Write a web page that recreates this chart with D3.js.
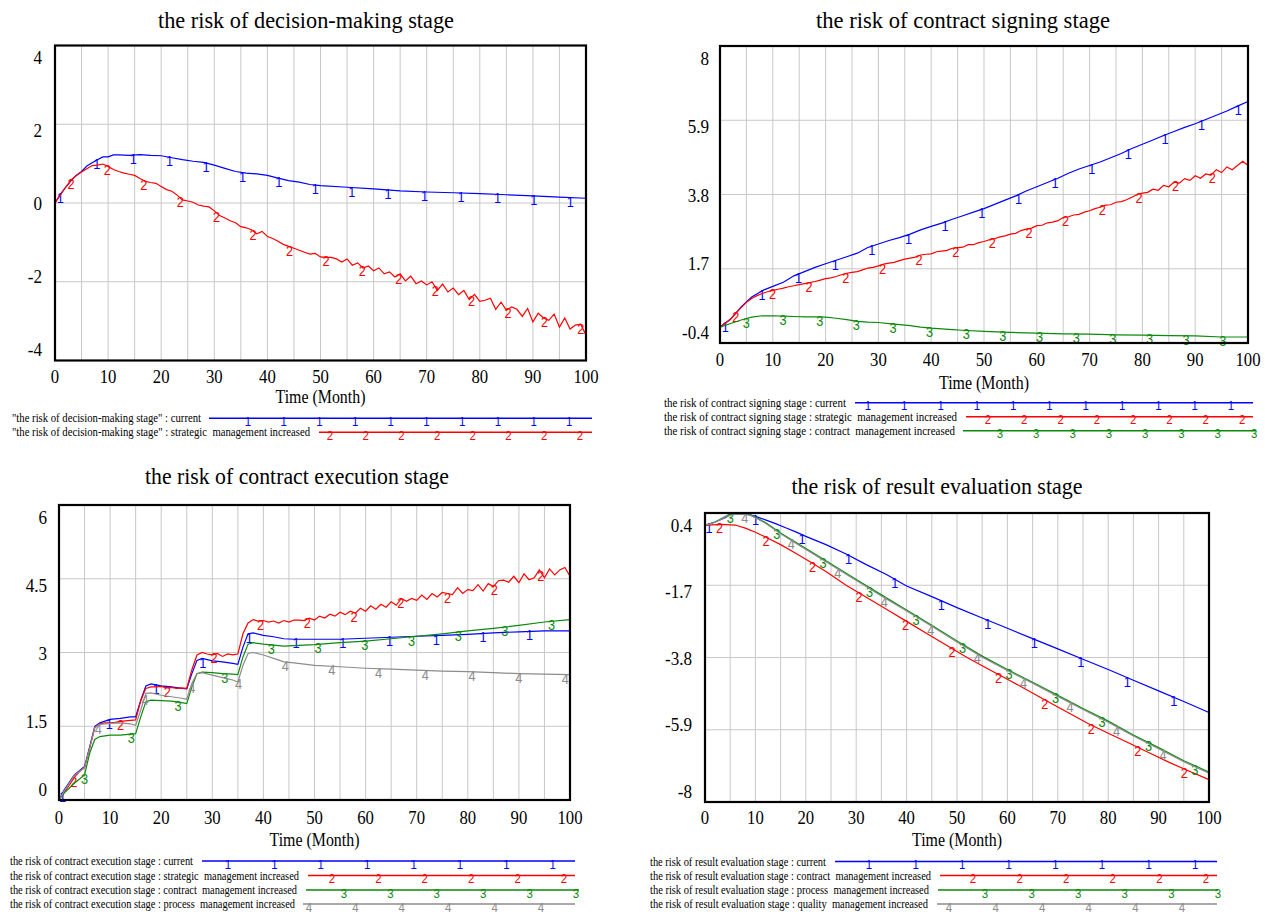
<!DOCTYPE html>
<html>
<head>
<meta charset="utf-8">
<script src="https://cdn.jsdelivr.net/npm/d3@7"></script>
<style>
  body { margin: 0; background: #fff; }
  svg { display: block; }
  .pre { white-space: pre; }
</style>
</head>
<body>
<svg id="chart" width="1265" height="914"></svg>
<script>
'use strict'

// ---------- data ----------
const monthly = d3.range(0, 101)        // simulation grid, 1 month step
const everyTwo = d3.range(0, 101, 2)

// the risk of decision-making stage
const dmTicks = [-4, -2, 0, 2, 4]
const dmCurrentT = [0,1,2,3,4,5,6,7,8,9,10,11,12,14,16,18,20,22,24,26,28,30,32,34,36,38,40,42,44,46,48,50,55,60,65,70,75,80,85,90,95,100]
const dmCurrent = [0,0.22,0.4,0.56,0.7,0.8,0.94,1.02,1.1,1.17, 1.17,1.22,1.22,1.21,1.23,1.21,1.2,1.15,1.1,1.06,
  1.03,0.96,0.88,0.8,0.76,0.74,0.7,0.63,0.57,0.53, 0.47,0.44,0.4,0.36,0.31,0.28,0.26,0.24,0.21,0.18, 0.15,0.12]
const dmStrategic = [
  0,0.2,0.4,0.58,0.7,0.79,0.87,0.95,0.96,0.99,
  0.93,0.85,0.8,0.76,0.73,0.7,0.62,0.55,0.52,0.5,
  0.42,0.34,0.3,0.2,0.08,0.05,0.02,-0.05,-0.08,-0.1,
  -0.2,-0.32,-0.38,-0.45,-0.5,-0.6,-0.63,-0.68,-0.78,-0.72,
  -0.85,-0.9,-0.97,-1.05,-1.1,-1.15,-1.2,-1.25,-1.3,-1.28,
  -1.37,-1.38,-1.38,-1.42,-1.5,-1.42,-1.58,-1.52,-1.65,-1.6,
  -1.72,-1.65,-1.8,-1.75,-1.88,-1.8,-1.98,-1.86,-2.05,-1.98,
  -2.08,-2.0,-2.22,-2.06,-2.26,-2.16,-2.33,-2.22,-2.45,-2.32,
  -2.5,-2.47,-2.42,-2.7,-2.52,-2.72,-2.64,-2.7,-2.88,-2.68,
  -3.02,-2.8,-2.92,-2.98,-2.82,-3.15,-2.92,-3.2,-3.1,-3.08,
  -3.36]

// the risk of contract signing stage
const csTicks = [-0.4, 1.7, 3.8, 5.9, 8]
const csCurrent = [0.05,0.27,0.62,0.9,1.08,1.2,1.32,1.5,1.62,1.74,
  1.84,1.94,2.04,2.14,2.3,2.4,2.5,2.58,2.68,2.8,
  2.9,2.99,3.1,3.2,3.3,3.4,3.52,3.64,3.76,3.9,
  4.02,4.14,4.26,4.4,4.52,4.62,4.72,4.84,4.96,5.1,
  5.22,5.34,5.47,5.58,5.7,5.8,5.92,6.04,6.16,6.3,
  6.43]
const csStrategic = [
  0.05,0.16,0.28,0.44,0.6,0.75,0.86,0.94,1.0,1.05,
  1.09,1.12,1.15,1.19,1.22,1.25,1.28,1.31,1.34,1.38,
  1.42,1.44,1.48,1.53,1.57,1.6,1.62,1.67,1.72,1.74,
  1.78,1.83,1.86,1.88,1.93,1.97,2.0,2.03,2.09,2.11,
  2.12,2.18,2.2,2.22,2.28,2.3,2.31,2.38,2.38,2.44,
  2.47,2.52,2.55,2.6,2.63,2.68,2.7,2.78,2.82,2.85,
  2.92,2.93,3.0,3.02,3.06,3.15,3.17,3.22,3.24,3.3,
  3.34,3.4,3.44,3.5,3.51,3.58,3.6,3.65,3.72,3.8,
  3.84,3.86,3.95,3.92,4.06,4.02,4.15,4.12,4.25,4.2,
  4.33,4.26,4.38,4.35,4.5,4.42,4.58,4.5,4.62,4.74,
  4.62]
const csContractT = [0,2,4,6,8,10,12,14,16,18,20,22,24,26,28,30,32,34,36,38,40,42,44,46,50,55,60,65,70,75,80,85,90,95,100]
const csContract = [0.05,0.15,0.25,0.33,0.37,0.37,0.36,0.35,0.34,0.34,
  0.33,0.3,0.26,0.21,0.19,0.18,0.15,0.12,0.09,0.05,
  0.02,0.0,-0.02,-0.04,-0.07,-0.1,-0.12,-0.14,-0.15,-0.17,
  -0.18,-0.19,-0.2,-0.23,-0.23]

// the risk of contract execution stage
const ceTicks = [0, 1.5, 3, 4.5, 6]
const ceT = [0,1,3,5,6,7,8,10,12,14,15,16,17,18,20,22,24,25,26,27,28,30,32,34,35,36,37,38,40,42,44,46,50,55,60,65,70,75,80,85,90,95,100]
const ceCurrent = [0,0.2,0.51,0.68,1.08,1.5,1.57,1.64,1.66,1.69,1.69,
  2.03,2.32,2.36,2.32,2.3,2.27,2.26,
  2.57,2.84,2.88,2.83,2.81,2.78,2.76,
  3.11,3.38,3.4,3.35,3.32,3.28,3.27,
  3.27,3.27,3.29,3.31,3.33,3.35,3.37,3.4,3.42,3.44,3.44]
const ceStrategic = [
  0,0.15,0.3,0.46,0.58,0.66,1.05,1.47,1.55,1.57,
  1.57,1.58,1.6,1.61,1.62,1.63,2.02,2.27,2.3,2.3,
  2.31,2.28,2.29,2.27,2.28,2.27,2.65,2.95,3.0,2.97,
  2.95,2.98,2.92,2.97,2.95,2.97,3.38,3.6,3.67,3.64,
  3.65,3.62,3.64,3.6,3.65,3.62,3.66,3.66,3.65,3.7,
  3.66,3.74,3.7,3.78,3.74,3.82,3.77,3.84,3.8,3.9,
  3.84,3.95,3.88,3.98,3.92,4.03,3.96,4.1,4.04,4.1,
  4.06,4.17,4.08,4.2,4.13,4.22,4.2,4.18,4.32,4.2,
  4.28,4.26,4.38,4.25,4.4,4.34,4.46,4.47,4.43,4.55,
  4.42,4.6,4.48,4.52,4.68,4.52,4.7,4.58,4.68,4.73,
  4.55]
const ceContract = [0,0.14,0.34,0.51,0.95,1.23,1.29,1.32,1.32,1.34,1.35,
  1.69,2.0,2.03,2.02,2.01,1.98,1.96,
  2.3,2.57,2.6,2.59,2.57,2.56,2.55,
  2.91,3.17,3.2,3.17,3.15,3.13,3.14,
  3.16,3.2,3.23,3.28,3.33,3.38,3.44,3.49,3.55,3.62,3.67]
const ceProcess = [0,0.18,0.5,0.66,1.05,1.47,1.54,1.56,1.57,1.55,1.52,
  1.83,2.17,2.18,2.13,2.1,2.07,2.05,
  2.37,2.57,2.59,2.54,2.49,2.44,2.4,
  2.74,2.98,3.0,2.95,2.88,2.81,2.79,
  2.74,2.71,2.68,2.66,2.64,2.62,2.61,2.59,2.57,2.56,2.55]

// the risk of result evaluation stage
const reTicks = [-8, -5.9, -3.8, -1.7, 0.4]
const reCurrentT = [0,2,4,5,6,8,10,12,14,16,18,20,24,28,32,36,40,45,50,55,60,65,70,75,80,85,90,95,100]
const reCurrent = [0.04,0.14,0.26,0.35,0.38,0.38,0.3,0.2,0.09,-0.03,-0.15,-0.28,-0.52,-0.79,-1.1,-1.39,-1.72,
  -2.03,-2.35,-2.65,-2.95,-3.25,-3.55,-3.85,-4.15,-4.46,-4.77,-5.08,-5.4]
const reContractT = [0,3,6,8,10,12,15,18,21,24,28,32,36,40,44,48,52,56,60,64,68,72,76,80,84,88,92,96,100]
const reContract = [0.04,0.07,0.05,-0.04,-0.16,-0.3,-0.52,-0.77,-1.03,-1.3,-1.7,-2.05,-2.4,-2.75,-3.1,
  -3.45,-3.8,-4.12,-4.43,-4.75,-5.08,-5.4,-5.72,-6.0,-6.28,-6.56,-6.84,-7.1,-7.35]
const reProcessT = [0,2,4,5,6,8,9,10,12,15,18,21,24,28,31,35,40,45,50,55,60,65,70,75,80,85,90,95,100]
const reProcess = [0.04,0.14,0.3,0.36,0.38,0.38,0.35,0.28,0.12,-0.18,-0.45,-0.72,-0.99,-1.35,-1.62,-1.98,
  -2.42,-2.86,-3.32,-3.76,-4.15,-4.52,-4.9,-5.28,-5.65,-6.05,-6.42,-6.8,-7.13]
const reQuality = [0.04,0.13,0.28,0.34,0.36,0.36,0.33,0.26,0.1,-0.2,-0.48,-0.75,-1.02,-1.38,-1.65,-2.01,
  -2.45,-2.89,-3.35,-3.79,-4.18,-4.55,-4.93,-5.31,-5.68,-6.08,-6.45,-6.83,-7.16]

// text
const titles = ['the risk of decision-making stage', 'the risk of contract signing stage',
  'the risk of contract execution stage', 'the risk of result evaluation stage']
const xTickLabels = ['0','10','20','30','40','50','60','70','80','90','100']
const xAxisTitle = 'Time (Month)'
const dmLegend = ['"the risk of decision-making stage" : current',
  '"the risk of decision-making stage" : strategic  management increased']
const csLegend = ['the risk of contract signing stage : current',
  'the risk of contract signing stage : strategic  management increased',
  'the risk of contract signing stage : contract  management increased']
const ceLegend = ['the risk of contract execution stage : current',
  'the risk of contract execution stage : strategic  management increased',
  'the risk of contract execution stage : contract  management increased',
  'the risk of contract execution stage : process  management increased']
const reLegend = ['the risk of result evaluation stage : current',
  'the risk of result evaluation stage : contract  management increased',
  'the risk of result evaluation stage : process  management increased',
  'the risk of result evaluation stage : quality  management increased']

// ---------- styling ----------
const BLUE = '#0000ff', RED = '#ff0000', GREEN = '#0a8a0a', GRAY = '#8c8c8c'
const SERIF = "'Liberation Serif', 'Times New Roman', serif"
const SANS = "'Liberation Sans', Arial, sans-serif"

// panel layout, data hooked in from the arrays above
const panels = [
  { left: 55, right: 586, top: 45.5, bottom: 360.5, ticks: dmTicks, labelRight: 42,
    title: titles[0], titleX: 306, titleY: 28, titleLen: 296, xLabY: 383, axisY: 403,
    markStep: 6.86, markStart: [1, 3],
    series: [
      { t: dmCurrentT, v: dmCurrent, c: BLUE, m: '1' },
      { t: monthly, v: dmStrategic, c: RED, m: '2' } ],
    legend: { labels: dmLegend, textX: 12, lens: [189, 298], rows: [418.3, 432.3],
      lines: [[209, 592], [319, 592]], first: [248, 330], step: 35.7 } },
  { left: 720, right: 1248, top: 46, bottom: 343, ticks: csTicks, labelRight: 709,
    title: titles[1], titleX: 963, titleY: 28, titleLen: 294, xLabY: 366, axisY: 389,
    markStep: 6.94, markStart: [1, 3, 5],
    series: [
      { t: everyTwo, v: csCurrent, c: BLUE, m: '1' },
      { t: monthly, v: csStrategic, c: RED, m: '2' },
      { t: csContractT, v: csContract, c: GREEN, m: '3' } ],
    legend: { labels: csLegend, textX: 664, lens: [182, 293, 291], rows: [402.7, 416.7, 430.7],
      lines: [[855, 1253], [966, 1253], [963, 1256]], first: [868, 988, 1000], step: 36.3 } },
  { left: 59, right: 570, top: 505, bottom: 800, ticks: ceTicks, labelRight: 47,
    title: titles[2], titleX: 297, titleY: 484, titleLen: 304, xLabY: 824, axisY: 846,
    markStep: 9.14, markStart: [0.7, 2.9, 5.0, 7.7],
    series: [
      { t: ceT, v: ceCurrent, c: BLUE, m: '1' },
      { t: monthly, v: ceStrategic, c: RED, m: '2' },
      { t: ceT, v: ceContract, c: GREEN, m: '3' },
      { t: ceT, v: ceProcess, c: GRAY, m: '4' } ],
    legend: { labels: ceLegend, textX: 10, lens: [183, 289, 287, 285], rows: [861, 875.5, 890, 904],
      lines: [[202, 575], [308, 575], [306, 579], [303, 575]], first: [228, 332, 344, 309], step: 46.4 } },
  { left: 705, right: 1209, top: 513, bottom: 802, ticks: reTicks, labelRight: 692,
    title: titles[3], titleX: 937, titleY: 494, titleLen: 291, xLabY: 824, axisY: 846,
    markStep: 9.22, markStart: [0.8, 2.9, 5.0, 7.9],
    series: [
      { t: reCurrentT, v: reCurrent, c: BLUE, m: '1' },
      { t: reContractT, v: reContract, c: RED, m: '2' },
      { t: reProcessT, v: reProcess, c: GREEN, m: '3' },
      { t: reProcessT, v: reQuality, c: GRAY, m: '4' } ],
    legend: { labels: reLegend, textX: 650, lens: [176, 281, 279, 278], rows: [861.5, 875.5, 890, 904],
      lines: [[835, 1217], [940, 1217], [938, 1218], [937, 1217]], first: [869, 973, 985, 949], step: 46.6 } }
]

const svg = d3.select('#chart')

// text with a horizontal squeeze, the reference text is narrow
function label(g, x, y, str, o) {
  const sx = o.sx || 1
  const t = g.append('text')
    .attr('transform', `translate(${x},${y}) scale(${sx},1)`)
    .attr('text-anchor', o.anchor || 'start')
    .attr('font-family', o.family || SERIF)
    .attr('font-size', o.size)
    .attr('fill', o.color || '#000')
    .text(str)
  if (o.len) t.attr('textLength', o.len / sx).attr('lengthAdjust', 'spacingAndGlyphs')
  if (o.pre) t.attr('class', 'pre')
  return t
}

// vensim style series number
function marker(g, x, y, ch, color) {
  label(g, x, y + 9, ch, { size: 15, family: SANS, anchor: 'middle', sx: 0.85, color: color })
}

function drawPanel(p) {
  const g = svg.append('g')
  const x = d3.scaleLinear().domain([0, 100]).range([p.left, p.right])
  const y = d3.scaleLinear().domain([p.ticks[0], p.ticks[p.ticks.length - 1]]).range([p.bottom, p.top])

  // grid
  g.selectAll('line.vg').data(d3.range(5, 100, 5)).join('line')
    .attr('x1', d => x(d)).attr('x2', d => x(d))
    .attr('y1', p.top).attr('y2', p.bottom)
    .attr('stroke', '#c8c8c8').attr('stroke-width', 1)
  g.selectAll('line.hg').data(p.ticks.slice(1, -1)).join('line')
    .attr('x1', p.left).attr('x2', p.right)
    .attr('y1', d => y(d)).attr('y2', d => y(d))
    .attr('stroke', '#c8c8c8').attr('stroke-width', 1)

  // series
  const line = d3.line().x(d => x(d[0])).y(d => y(d[1]))
  p.series.forEach((s, i) => {
    const pts = s.t.map((t, j) => [t, s.v[j]])
    g.append('path').attr('d', line(pts))
      .attr('fill', 'none').attr('stroke', s.c).attr('stroke-width', 1.2)
    const at = d3.scaleLinear().domain(s.t).range(s.v)
    for (let t = p.markStart[i]; t <= 100.05; t += p.markStep) {
      marker(g, x(t), y(at(t)), s.m, s.c)
    }
  })

  // frame
  g.append('rect')
    .attr('x', p.left).attr('y', p.top)
    .attr('width', p.right - p.left).attr('height', p.bottom - p.top)
    .attr('fill', 'none').attr('stroke', '#000').attr('stroke-width', 2.2)

  // y labels sit evenly spaced between the inset top and bottom
  const yl = d3.scaleLinear().domain([0, p.ticks.length - 1]).range([p.bottom - 10.5, p.top + 12.5])
  p.ticks.forEach((v, i) => {
    label(g, p.labelRight, yl(i) + 6.3, String(v), { size: 19, anchor: 'end', sx: 0.9 })
  })
  // x labels
  xTickLabels.forEach(d => {
    label(g, x(+d), p.xLabY, d, { size: 19, anchor: 'middle', sx: 0.88 })
  })
  label(g, (p.left + p.right) / 2, p.axisY, xAxisTitle, { size: 19, anchor: 'middle', len: 90 })
  label(g, p.titleX, p.titleY, p.title, { size: 23, anchor: 'middle', len: p.titleLen })

  // legend
  const L = p.legend
  L.labels.forEach((txt, i) => {
    const ly = L.rows[i]
    const s = p.series[i]
    label(g, L.textX, ly + 4, txt, { size: 12.5, len: L.lens[i], pre: true })
    g.append('line')
      .attr('x1', L.lines[i][0]).attr('x2', L.lines[i][1])
      .attr('y1', ly).attr('y2', ly)
      .attr('stroke', s.c).attr('stroke-width', 1.5)
    for (let mx = L.first[i]; mx <= L.lines[i][1] + 1; mx += L.step) {
      label(g, mx, ly + 7.5, s.m, { size: 13, family: SANS, anchor: 'middle', sx: 0.88, color: s.c })
    }
  })
}

panels.forEach(drawPanel)
</script>
</body>
</html>
